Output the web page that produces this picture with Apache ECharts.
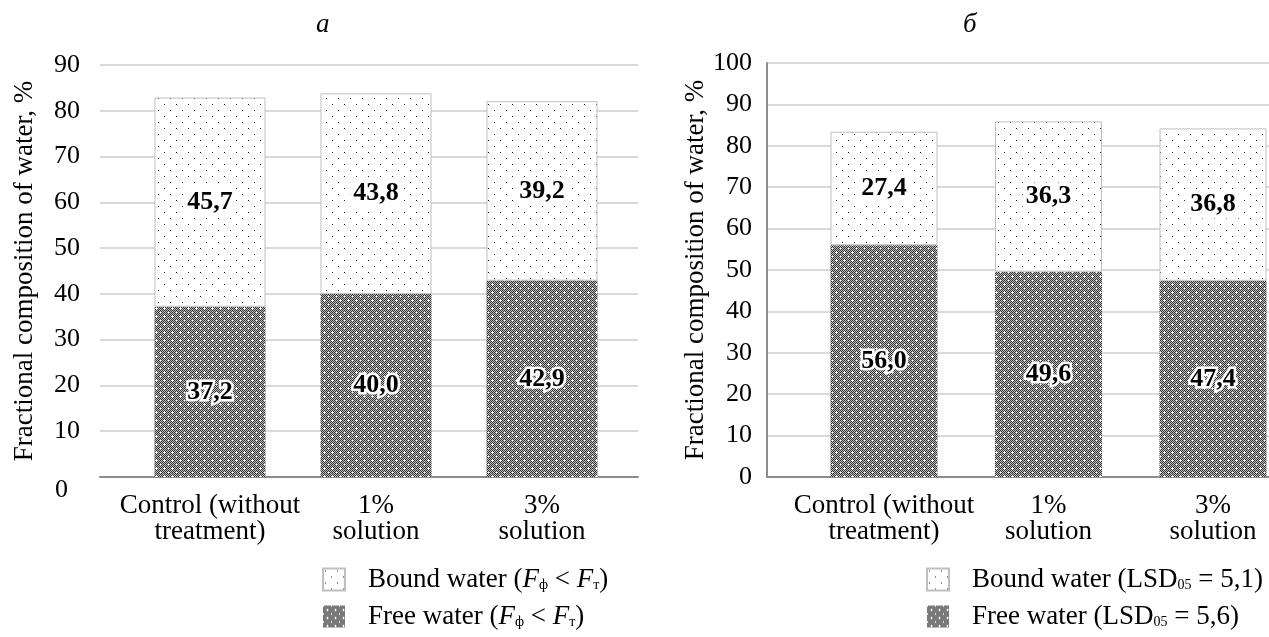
<!DOCTYPE html>
<html>
<head>
<meta charset="utf-8">
<script src="https://cdn.jsdelivr.net/npm/echarts@6/dist/echarts.min.js"></script>
<style>
html,body{margin:0;padding:0;background:#fff;}
#chart{width:1269px;height:637px;}
</style>
</head>
<body>
<div id="chart"></div>
<script>
// ---- data ----
const categories = ['Control (without\ntreatment)', '1%\nsolution', '3%\nsolution'];
const freeA = [37.2, 40.0, 42.9];
const boundA = [45.7, 43.8, 39.2];
const freeB = [56.0, 49.6, 47.4];
const boundB = [27.4, 36.3, 36.8];
const yMaxA = 90, yMaxB = 100, yStep = 10;
const panelTitles = ['а', 'б'];
const yName = 'Fractional composition of water, %';
const legendNames = {
  boundA: 'Bound water ({i|F}{s|ф} < {i|F}{s|т})',
  freeA: 'Free water ({i|F}{s|ф} < {i|F}{s|т})',
  boundB: 'Bound water (LSD{s|05} = 5,1)',
  freeB: 'Free water (LSD{s|05} = 5,6)'
};

// ---- patterns ----
function dotPattern() {
  const c = document.createElement('canvas'); c.width = 12; c.height = 12;
  const g = c.getContext('2d');
  g.fillStyle = '#fff'; g.fillRect(0, 0, 12, 12);
  g.fillStyle = '#222'; g.fillRect(2, 2, 1, 1); g.fillRect(8, 8, 1, 1);
  return { image: c, repeat: 'repeat' };
}
function densePattern() {
  const n = 8;
  const c = document.createElement('canvas'); c.width = n; c.height = n;
  const g = c.getContext('2d');
  for (let y = 0; y < n; y++) for (let x = 0; x < n; x++) {
    g.fillStyle = ((x + y) % 2 === 0) ? '#333' : '#c0c0c0';
    g.fillRect(x, y, 1, 1);
  }
  g.fillStyle = '#fff';
  g.fillRect(3, 4, 3, 1); g.fillRect(4, 3, 1, 3);
  g.fillRect(0, 0, 1, 1);
  return { image: c, repeat: 'repeat' };
}
const boundFill = dotPattern();
const freeFill = densePattern();

const FONT = 'Liberation Serif';
const fmt = v => (typeof v === 'object' ? v.value : v).toFixed(1).replace('.', ',');

const chart = echarts.init(document.getElementById('chart'), null, { renderer: 'canvas' });

function outerX(gi) {
  return { type: 'category', gridIndex: gi, data: [''],
    axisLine: { show: true, lineStyle: { color: '#8c8c8c', width: 2 } },
    axisTick: { show: false }, axisLabel: { show: false }, splitLine: { show: false } };
}
function innerX(gi, onBand) {
  return { type: 'category', gridIndex: gi, data: categories, boundaryGap: onBand,
    axisLine: { show: false }, axisTick: { show: false },
    axisLabel: { interval: 0, fontFamily: FONT, fontSize: 27, color: '#000', lineHeight: 26, margin: 16 } };
}
function outerY(gi, max, showLine, nameGap, zeroShift) {
  return { type: 'value', gridIndex: gi, min: 0, max: max, interval: yStep,
    name: yName, nameLocation: 'middle', nameGap: nameGap, nameRotate: 90,
    nameTextStyle: { fontFamily: FONT, fontSize: 27, color: '#000' },
    axisLine: { show: showLine, lineStyle: { color: '#8c8c8c', width: 2 } },
    axisTick: { show: false },
    splitLine: { show: true, lineStyle: { color: '#d9d9d9', width: 2 } },
    axisLabel: { fontFamily: FONT, fontSize: 26, color: '#000', margin: showLine ? 15 : 20,
      formatter: v => (zeroShift && v === 0) ? '{z|0}' : String(v),
      rich: { z: { fontFamily: FONT, fontSize: 26, color: '#000', padding: [26, 12, 0, 0] } } } };
}
function innerY(gi, max) {
  return { type: 'value', gridIndex: gi, min: 0, max: max, interval: yStep, show: false,
    splitLine: { show: false } };
}
function boundLabel() {
  return { show: true, position: 'inside', formatter: p => fmt(p.value),
    fontFamily: FONT, fontSize: 26, fontWeight: 'bold', color: '#000', backgroundColor: '#fff', padding: [1, 3] };
}
function freeLabel() {
  return { show: true, position: 'inside', formatter: p => fmt(p.value),
    fontFamily: FONT, fontSize: 26, fontWeight: 'bold', color: '#000', textBorderColor: '#fff', textBorderWidth: 5 };
}
const legendRich = {
  i: { fontFamily: FONT, fontSize: 27, fontStyle: 'italic', color: '#000' },
  s: { fontFamily: FONT, fontSize: 14, color: '#000', padding: [12, 0, 0, 0] }
};
function legend(left, names) {
  return { orient: 'vertical', left: left, top: 565, padding: 0, itemWidth: 22, itemHeight: 22, itemGap: 8,
    height: 80, icon: 'rect',
    data: names, formatter: n => legendNames[n],
    textStyle: { fontFamily: FONT, fontSize: 27, color: '#000', lineHeight: 29, rich: legendRich, padding: [0, 0, 0, 18] } };
}

const option = {
  backgroundColor: '#fff',
  animation: false,
  title: [
    { text: panelTitles[0], left: 311, top: 6, textStyle: { fontFamily: FONT, fontStyle: 'italic', fontWeight: 'normal', fontSize: 27, color: '#000' } },
    { text: panelTitles[1], left: 958, top: 6, textStyle: { fontFamily: FONT, fontStyle: 'italic', fontWeight: 'normal', fontSize: 27, color: '#000' } }
  ],
  grid: [
    { left: 100, right: 631, top: 65, bottom: 160 },
    { left: 127, right: 644, top: 65, bottom: 160 },
    { left: 767, right: 0, top: 63, bottom: 160 },
    { left: 884, right: 56, top: 63, bottom: 160 }
  ],
  xAxis: [outerX(0), innerX(1, true), outerX(2), innerX(3, false)],
  yAxis: [outerY(0, yMaxA, false, 62, true), innerY(1, yMaxA), outerY(2, yMaxB, true, 50, false), innerY(3, yMaxB)],
  legend: [legend(322, ['boundA', 'freeA']), legend(926, ['boundB', 'freeB'])],
  series: [
    { name: 'freeA', type: 'bar', stack: 'a', xAxisIndex: 1, yAxisIndex: 1, barWidth: 111, data: freeA, clip: false,
      itemStyle: { color: freeFill }, label: freeLabel() },
    { name: 'boundA', type: 'bar', stack: 'a', xAxisIndex: 1, yAxisIndex: 1, barWidth: 111, data: boundA, clip: false,
      itemStyle: { color: boundFill, borderColor: '#bfbfbf', borderWidth: 1 }, label: boundLabel() },
    { name: 'freeB', type: 'bar', stack: 'b', xAxisIndex: 3, yAxisIndex: 3, barWidth: 107, data: freeB, clip: false,
      itemStyle: { color: freeFill }, label: freeLabel() },
    { name: 'boundB', type: 'bar', stack: 'b', xAxisIndex: 3, yAxisIndex: 3, barWidth: 107, data: boundB, clip: false,
      itemStyle: { color: boundFill, borderColor: '#bfbfbf', borderWidth: 1 }, label: boundLabel() }
  ]
};
chart.setOption(option);
</script>
</body>
</html>
